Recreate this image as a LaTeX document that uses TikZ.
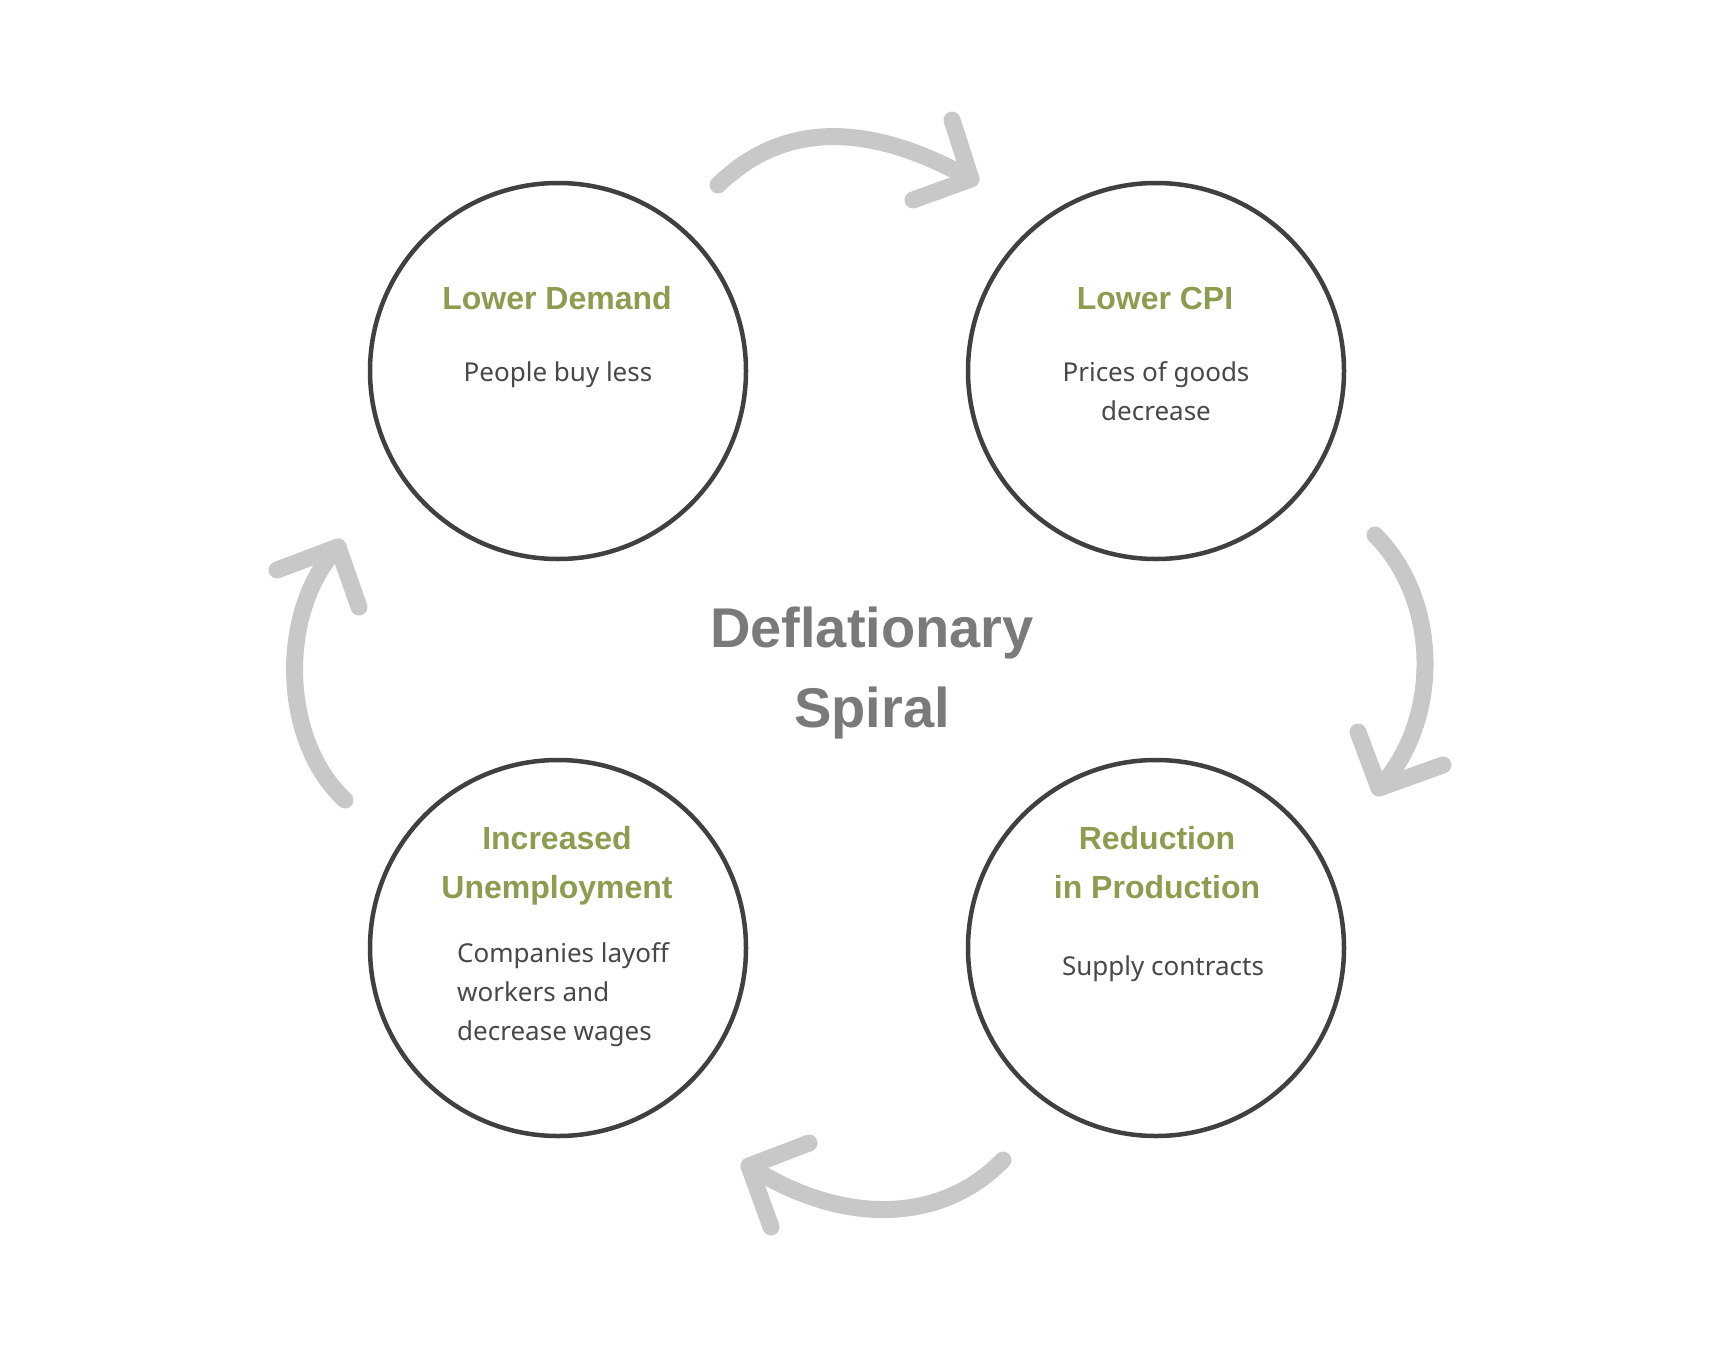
\documentclass[tikz,border=0pt]{standalone}
\usepackage{fontspec}
\setmainfont{Noto Sans}
\newfontfamily\headfont{Liberation Sans}
\definecolor{olive}{RGB}{141,157,80}
\definecolor{ringgray}{RGB}{64,64,64}
\definecolor{arrowgray}{RGB}{200,200,200}
\definecolor{bodygray}{RGB}{72,72,72}
\definecolor{titlegray}{RGB}{122,122,122}
\tikzset{
  ring/.style={circle, draw=ringgray, line width=4.5pt, minimum size=376pt, inner sep=0pt},
  headtext/.style={text=olive, font={\headfont\bfseries\fontsize{32}{49}\selectfont}, align=center, inner sep=0pt},
  bodytext/.style={text=bodygray, font={\fontsize{26}{39}\selectfont}, inner sep=0pt},
  titletext/.style={text=titlegray, font={\headfont\bfseries\fontsize{56}{80}\selectfont}, align=center, inner sep=0pt},
  flow/.style={draw=arrowgray, line width=17pt, line cap=round, line join=round},
}
\begin{document}
\begin{tikzpicture}[x=1pt, y=-1pt]
\useasboundingbox (0,0) rectangle (1734,1344);
\fill[white] (0,0) rectangle (1734,1344);
% rings
\node[ring] (demand) at (558,371) {};
\node[ring] (cpi) at (1156,371) {};
\node[ring] (unemp) at (558,948) {};
\node[ring] (prod) at (1156,948) {};
% texts (base anchor = baseline of the last line)
\node[headtext, anchor=base] (demandT) at (557,309) {Lower Demand};
\node[bodytext, anchor=base, align=center] (demandB) at (558,381) {People buy less};
\node[headtext, anchor=base] (cpiT) at (1155,309) {Lower CPI};
\node[bodytext, anchor=base, align=center] (cpiB) at (1156,420) {Prices of goods\\decrease};
\node[headtext, anchor=base] (unempT) at (557,898) {Increased\\Unemployment};
\node[bodytext, anchor=base west, align=left] (unempB) at (457,1040) {Companies layoff\\workers and\\decrease wages};
\node[headtext, anchor=base] (prodT) at (1157,898) {Reduction\\in Production};
\node[bodytext, anchor=base, align=center] (prodB) at (1163,975) {Supply contracts};
\node[titletext, anchor=base] (title) at (872,727) {Deflationary\\Spiral};
% arrows
\coordinate (a1s) at (718,185);
\coordinate (a1t) at (971,179);
\coordinate (a1l) at (952,120);
\coordinate (a1r) at (913,200);
\draw[flow] (a1s) .. controls (790,115) and (880,128) .. (a1t);
\draw[flow] (a1l) -- (a1t) -- (a1r);
\coordinate (a2s) at (1375,535);
\coordinate (a2t) at (1379,788);
\coordinate (a2l) at (1358,732);
\coordinate (a2r) at (1443,765);
\draw[flow] (a2s) .. controls (1440,600) and (1442,720) .. (a2t);
\draw[flow] (a2l) -- (a2t) -- (a2r);
\coordinate (a3s) at (1003,1160);
\coordinate (a3t) at (749,1166);
\coordinate (a3l) at (809,1143);
\coordinate (a3r) at (771,1227);
\draw[flow] (a3s) .. controls (940,1225) and (840,1225) .. (a3t);
\draw[flow] (a3l) -- (a3t) -- (a3r);
\coordinate (a4s) at (345,800);
\coordinate (a4t) at (338,547);
\coordinate (a4l) at (277,570);
\coordinate (a4r) at (359,607);
\draw[flow] (a4s) .. controls (280,740) and (278,610) .. (a4t);
\draw[flow] (a4l) -- (a4t) -- (a4r);
\end{tikzpicture}
\end{document}
